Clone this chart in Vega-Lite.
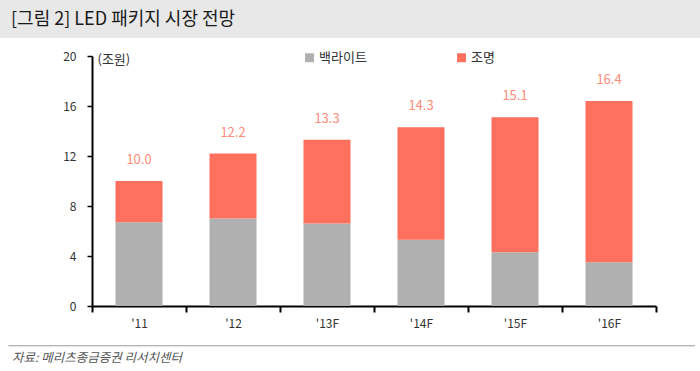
{
  "$schema": "https://vega.github.io/schema/vega-lite/v6.json",
  "padding": 0,
  "background": "white",
  "spacing": 0,
  "config": {"view": {"stroke": null}, "font": "Noto Sans CJK KR"},
  "datasets": {
    "bars": [
      {"year": "'11", "type": "백라이트", "value": 6.7},
      {"year": "'11", "type": "조명", "value": 3.3},
      {"year": "'12", "type": "백라이트", "value": 7.0},
      {"year": "'12", "type": "조명", "value": 5.2},
      {"year": "'13F", "type": "백라이트", "value": 6.6},
      {"year": "'13F", "type": "조명", "value": 6.7},
      {"year": "'14F", "type": "백라이트", "value": 5.3},
      {"year": "'14F", "type": "조명", "value": 9.0},
      {"year": "'15F", "type": "백라이트", "value": 4.3},
      {"year": "'15F", "type": "조명", "value": 10.8},
      {"year": "'16F", "type": "백라이트", "value": 3.5},
      {"year": "'16F", "type": "조명", "value": 12.9}
    ],
    "totals": [
      {"year": "'11", "total": 10.0, "label": "10.0"},
      {"year": "'12", "total": 12.2, "label": "12.2"},
      {"year": "'13F", "total": 13.3, "label": "13.3"},
      {"year": "'14F", "total": 14.3, "label": "14.3"},
      {"year": "'15F", "total": 15.1, "label": "15.1"},
      {"year": "'16F", "total": 16.4, "label": "16.4"}
    ]
  },
  "vconcat": [
    {
      "width": 700,
      "height": 38,
      "view": {"fill": "#E8E8E8", "stroke": null},
      "data": {"values": [{"t": "[그림 2] LED 패키지 시장 전망"}]},
      "mark": {"type": "text", "align": "left", "baseline": "middle", "fontSize": 18, "dx": 11, "color": "#1a1a1a"},
      "encoding": {
        "x": {"datum": 0, "type": "quantitative", "scale": {"domain": [0, 1]}, "axis": null},
        "y": {"datum": 0.47, "type": "quantitative", "scale": {"domain": [0, 1]}, "axis": null},
        "text": {"field": "t"}
      }
    },
    {
      "width": 700,
      "height": 307,
      "layer": [
        {
          "data": {"name": "bars"},
          "mark": {"type": "bar", "width": {"band": 0.5}},
          "encoding": {
            "x": {
              "field": "year", "type": "nominal", "sort": null,
              "scale": {"range": [92, 656], "paddingInner": 0, "paddingOuter": 0},
              "axis": {
                "title": null, "orient": "bottom", "offset": -39,
                "domainColor": "#000", "domainWidth": 2,
                "tickColor": "#000", "tickWidth": 2, "tickSize": 6, "tickBand": "extent",
                "labelAngle": 0, "labelPadding": 6, "labelFontSize": 12, "labelColor": "#333"
              }
            },
            "y": {
              "field": "value", "type": "quantitative", "stack": "zero",
              "scale": {"domain": [0, 20], "range": [268, 18], "nice": false},
              "axis": {
                "orient": "left", "offset": -92, "values": [0, 4, 8, 12, 16, 20],
                "grid": false,
                "domainColor": "#000", "domainWidth": 2,
                "tickColor": "#000", "tickWidth": 1.5, "tickSize": 5,
                "labelPadding": 11, "labelFontSize": 12, "labelColor": "#333",
                "title": "(조원)", "titleAngle": 0, "titleX": 5, "titleY": 21,
                "titleAlign": "left", "titleBaseline": "middle",
                "titleFontWeight": "normal", "titleFontSize": 13, "titleColor": "#333"
              }
            },
            "order": {"field": "type", "sort": "ascending"},
            "color": {
              "field": "type", "type": "nominal",
              "scale": {"domain": ["백라이트", "조명"], "range": ["#B0B0B0", "#FF715E"]},
              "legend": {
                "orient": "none", "legendX": 303, "legendY": 51, "direction": "horizontal",
                "title": null, "symbolType": "square", "symbolSize": 80, "symbolStrokeWidth": 0,
                "labelFontSize": 13, "labelColor": "#333", "columnPadding": 88, "labelOffset": 3
              }
            }
          }
        },
        {
          "data": {"name": "totals"},
          "mark": {"type": "text", "dy": -21, "color": "#FF8A78", "fontSize": 13, "baseline": "middle"},
          "encoding": {
            "x": {"field": "year", "type": "nominal", "sort": null},
            "y": {"field": "total", "type": "quantitative"},
            "text": {"field": "label"}
          }
        }
      ]
    },
    {
      "width": 700,
      "height": 26,
      "data": {"values": [{"src": "자료: 메리츠종금증권 리서치센터"}]},
      "layer": [
        {
          "mark": {"type": "rule", "color": "#999", "strokeWidth": 1},
          "encoding": {
            "x": {"datum": 0.012, "type": "quantitative", "scale": {"domain": [0, 1]}, "axis": null},
            "x2": {"datum": 0.993},
            "y": {"datum": 0.97, "type": "quantitative", "scale": {"domain": [0, 1]}, "axis": null}
          }
        },
        {
          "mark": {"type": "text", "align": "left", "baseline": "middle", "fontSize": 12.5, "fontStyle": "italic", "dx": 12, "color": "#555"},
          "encoding": {
            "x": {"datum": 0, "type": "quantitative"},
            "y": {"datum": 0.5, "type": "quantitative"},
            "text": {"field": "src"}
          }
        }
      ]
    }
  ]
}
